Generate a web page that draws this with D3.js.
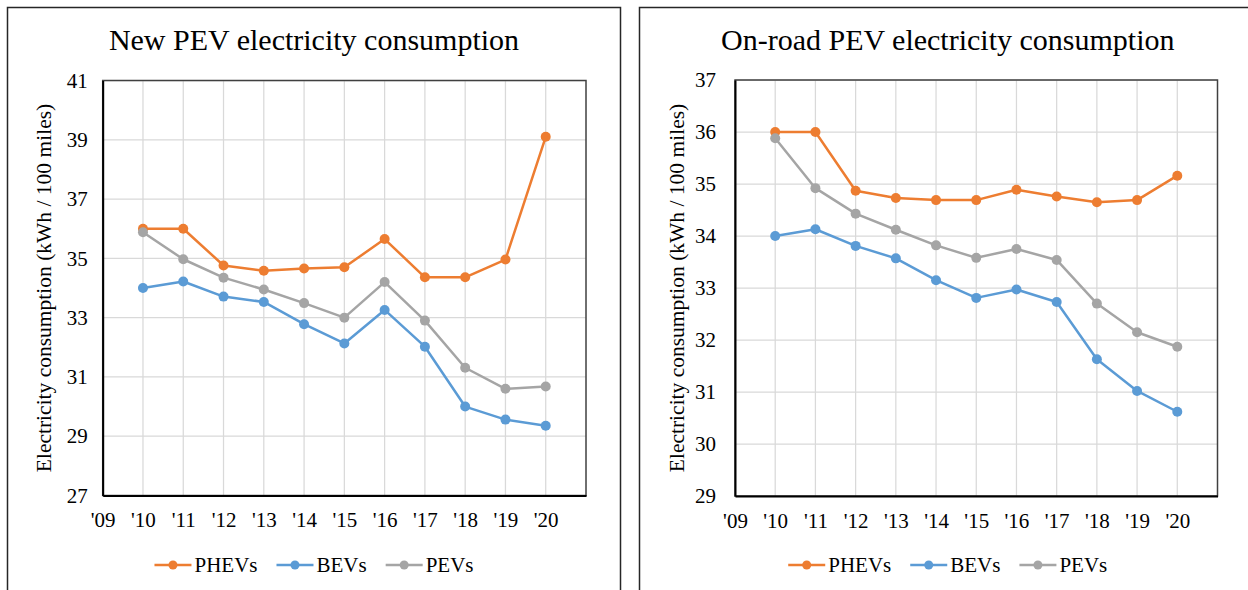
<!DOCTYPE html>
<html>
<head>
<meta charset="utf-8">
<script src="https://cdn.jsdelivr.net/npm/d3@7"></script>
<style>
  html, body { margin: 0; padding: 0; background: #fff; }
  svg { display: block; }
</style>
</head>
<body>
<svg id="chart" width="1248" height="590"></svg>
<script>
// ---- data ----
const years = [2010, 2011, 2012, 2013, 2014, 2015, 2016, 2017, 2018, 2019, 2020];
const seriesNames = ["PHEVs", "BEVs", "PEVs"];
const seriesColors = ["#ED7D31", "#5B9BD5", "#A5A5A5"];

const newPHEV = [36.0, 36.0, 34.76, 34.58, 34.66, 34.7, 35.65, 34.36, 34.36, 34.96, 39.1];
const newBEV  = [34.0, 34.22, 33.71, 33.53, 32.78, 32.13, 33.26, 32.02, 30.0, 29.56, 29.35];
const newPEV  = [35.88, 34.97, 34.35, 33.95, 33.49, 33.0, 34.2, 32.9, 31.31, 30.6, 30.68];

const roadPHEV = [36.0, 36.0, 34.87, 34.73, 34.69, 34.69, 34.89, 34.76, 34.65, 34.69, 35.16];
const roadBEV  = [34.0, 34.13, 33.81, 33.57, 33.15, 32.81, 32.97, 32.73, 31.63, 31.02, 30.62];
const roadPEV  = [35.88, 34.92, 34.43, 34.12, 33.82, 33.58, 33.75, 33.54, 32.7, 32.15, 31.87];

const xTickYears = [2009, 2010, 2011, 2012, 2013, 2014, 2015, 2016, 2017, 2018, 2019, 2020];
const newYTicks = [27, 29, 31, 33, 35, 37, 39, 41];
const roadYTicks = [29, 30, 31, 32, 33, 34, 35, 36, 37];

const titles = ["New PEV electricity consumption", "On-road PEV electricity consumption"];
const yAxisTitle = "Electricity consumption (kWh / 100 miles)";

// ---- drawing ----
const FONT = "'Liberation Serif', 'Times New Roman', serif";
const svg = d3.select("#chart").style("font-family", FONT);

function drawChart(cfg) {
  const g = svg.append("g");
  // outer frame
  g.append("rect")
    .attr("x", cfg.frameX0).attr("y", 7.5)
    .attr("width", cfg.frameX1 - cfg.frameX0).attr("height", 620)
    .attr("fill", "#fff").attr("stroke", "#262626").attr("stroke-width", 1.5);

  const x = d3.scaleLinear().domain([2009, 2021]).range([cfg.plotL, cfg.plotR]);
  const y = d3.scaleLinear().domain(cfg.yDomain).range([cfg.plotB, cfg.plotT]);

  // gridlines
  g.append("g").selectAll("line").data(cfg.yTicks.slice(1)).join("line")
    .attr("x1", cfg.plotL).attr("x2", cfg.plotR)
    .attr("y1", d => y(d)).attr("y2", d => y(d))
    .attr("stroke", "#D9D9D9").attr("stroke-width", 1.25);
  g.append("g").selectAll("line").data(years).join("line")
    .attr("x1", d => x(d)).attr("x2", d => x(d))
    .attr("y1", cfg.plotT).attr("y2", cfg.plotB)
    .attr("stroke", "#D9D9D9").attr("stroke-width", 1.25);

  // plot border
  g.append("rect")
    .attr("x", cfg.plotL).attr("y", cfg.plotT)
    .attr("width", cfg.plotR - cfg.plotL).attr("height", cfg.plotB - cfg.plotT)
    .attr("fill", "none").attr("stroke", "#404040").attr("stroke-width", 1.5);

  // axes
  const yAxis = d3.axisLeft(y).tickValues(cfg.yTicks).tickSize(0).tickPadding(cfg.yPad).tickFormat(d3.format("d"));
  const ya = g.append("g").attr("transform", `translate(${cfg.plotL},0)`).call(yAxis);
  ya.attr("font-family", null).attr("font-size", null);
  ya.select(".domain").attr("stroke", "#000").attr("stroke-width", 2);
  ya.selectAll("text").style("font-family", FONT).style("font-size", "21px").attr("fill", "#000");

  const xAxis = d3.axisBottom(x).tickValues(xTickYears).tickSize(0).tickPadding(17)
    .tickFormat(d => "'" + String(d).slice(2));
  const xa = g.append("g").attr("transform", `translate(0,${cfg.plotB})`).call(xAxis);
  xa.attr("font-family", null).attr("font-size", null);
  xa.select(".domain").attr("stroke", "#000").attr("stroke-width", 2);
  xa.selectAll("text").style("font-family", FONT).style("font-size", "21px").attr("fill", "#000");

  // titles
  g.append("text")
    .attr("x", (cfg.frameX0 + cfg.frameX1) / 2).attr("y", 50)
    .attr("text-anchor", "middle").style("font-family", FONT).style("font-size", "30px")
    .text(cfg.title);
  g.append("text")
    .attr("transform", `translate(${cfg.yTitleX},${(cfg.plotT + cfg.plotB) / 2}) rotate(-90)`)
    .attr("text-anchor", "middle").attr("dominant-baseline", "central")
    .style("font-family", FONT).style("font-size", "21.5px")
    .text(yAxisTitle);

  // series
  const line = d3.line().x((d, i) => x(years[i])).y(d => y(d));
  cfg.series.forEach((vals, si) => {
    g.append("path").datum(vals)
      .attr("d", line).attr("fill", "none")
      .attr("stroke", seriesColors[si]).attr("stroke-width", 2.5)
      .attr("stroke-linejoin", "round");
    g.append("g").selectAll("circle").data(vals).join("circle")
      .attr("cx", (d, i) => x(years[i])).attr("cy", d => y(d))
      .attr("r", 5).attr("fill", seriesColors[si]);
  });

  // legend
  const lg = g.append("g");
  let cx = 0;
  seriesNames.forEach((name, si) => {
    const it = lg.append("g");
    it.append("line").attr("x1", 0).attr("x2", 37).attr("y1", 0).attr("y2", 0)
      .attr("stroke", seriesColors[si]).attr("stroke-width", 2.5);
    it.append("circle").attr("cx", 18.5).attr("cy", 0).attr("r", 4.5).attr("fill", seriesColors[si]);
    const t = it.append("text").attr("x", 40).attr("y", 0).attr("dominant-baseline", "central")
      .style("font-family", FONT).style("font-size", "21px").text(name);
    const w = 40 + t.node().getComputedTextLength();
    it.attr("transform", `translate(${cx},0)`);
    cx += w + 19;
  });
  const totalW = cx - 19;
  lg.attr("transform", `translate(${(cfg.frameX0 + cfg.frameX1) / 2 - totalW / 2},${565})`);
}

drawChart({
  frameX0: 7.5, frameX1: 620.5,
  plotL: 102.7, plotR: 586, plotT: 80.5, plotB: 495.5,
  yDomain: [27, 41], yTicks: newYTicks, yPad: 15, yTitleX: 44,
  title: titles[0],
  series: [newPHEV, newBEV, newPEV]
});

drawChart({
  frameX0: 639.5, frameX1: 1256,
  plotL: 735, plotR: 1217.5, plotT: 80, plotB: 496,
  yDomain: [29, 37], yTicks: roadYTicks, yPad: 19, yTitleX: 677,
  title: titles[1],
  series: [roadPHEV, roadBEV, roadPEV]
});
</script>
</body>
</html>
